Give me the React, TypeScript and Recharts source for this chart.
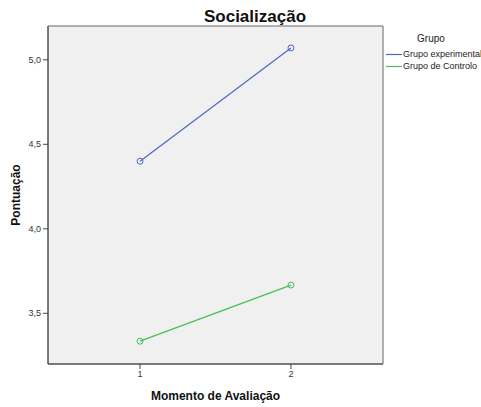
import React from "react";
import {
  LineChart,
  Line,
  XAxis,
  YAxis,
  CartesianGrid,
  ReferenceArea,
} from "recharts";

const moments = [1, 2];
const experimental = [4.4, 5.07];
const controlo = [3.335, 3.667];
const yTicks = [3.5, 4.0, 4.5, 5.0];
const seriesNames = ["Grupo experimental", "Grupo de Controlo"];
const seriesColors = ["#5166C2", "#44C056"];

const data = moments.map((m, i) => ({
  moment: m,
  experimental: experimental[i],
  controlo: controlo[i],
}));

const font = "Arial, 'Liberation Sans', sans-serif";
const fmt = (v: number) => v.toFixed(1).replace(".", ",");

const LegendBox = () => (
  <div style={{ position: "absolute", left: 386, top: 33, fontFamily: font, color: "#222" }}>
    <div style={{ fontSize: 10, textAlign: "center", width: 70, marginLeft: 10, marginBottom: 4 }}>
      Grupo
    </div>
    {seriesNames.map((n, i) => (
      <div key={n} style={{ display: "flex", alignItems: "center", fontSize: 9, height: 12 }}>
        <svg width={16} height={3} style={{ marginRight: 1 }}>
          <line x1={0} y1={1.5} x2={16} y2={1.5} stroke={seriesColors[i]} strokeWidth={1.2} />
        </svg>
        <span style={{ whiteSpace: "nowrap" }}>{n}</span>
      </div>
    ))}
  </div>
);

export default function App() {
  return (
    <div style={{ position: "absolute", left: 0, top: 0, width: 481, height: 407, background: "#fff" }}>
      <div
        style={{
          position: "absolute",
          left: 255,
          top: 7,
          transform: "translateX(-50%)",
          fontFamily: font,
          fontWeight: "bold",
          fontSize: 17,
          color: "#111",
        }}
      >
        Socialização
      </div>
      <LegendBox />
      <LineChart
        width={481}
        height={407}
        data={data}
        margin={{ top: 26, right: 98, bottom: 23, left: 8 }}
      >
        <CartesianGrid fill="#F0F0F0" horizontal={false} vertical={false} />
        <ReferenceArea
          x1={0.39}
          x2={2.61}
          y1={3.2}
          y2={5.2}
          fill="none"
          stroke="#666"
          strokeWidth={1}
          ifOverflow="extendDomain"
        />
        <XAxis
          dataKey="moment"
          type="number"
          domain={[0.39, 2.61]}
          ticks={moments}
          height={20}
          stroke="#444"
          tickSize={5}
          tick={{ fontSize: 9, fill: "#333", fontFamily: font }}
          label={{
            value: "Momento de Avaliação",
            position: "insideBottom",
            offset: -16,
            style: { fontSize: 12, fontWeight: "bold", fill: "#111", fontFamily: font },
          }}
        />
        <YAxis
          type="number"
          domain={[3.2, 5.2]}
          ticks={yTicks}
          width={40}
          stroke="#444"
          tickSize={5}
          tickFormatter={fmt}
          tick={{ fontSize: 9, fill: "#333", fontFamily: font }}
          label={{
            value: "Pontuação",
            angle: -90,
            position: "insideLeft",
            offset: 8,
            style: { fontSize: 12, fontWeight: "bold", fill: "#111", textAnchor: "middle", fontFamily: font },
          }}
        />
        <Line
          dataKey="experimental"
          name={seriesNames[0]}
          stroke={seriesColors[0]}
          strokeWidth={1.2}
          dot={{ r: 3, fill: "none", stroke: seriesColors[0], strokeWidth: 1 }}
          isAnimationActive={false}
        />
        <Line
          dataKey="controlo"
          name={seriesNames[1]}
          stroke={seriesColors[1]}
          strokeWidth={1.2}
          dot={{ r: 3, fill: "none", stroke: seriesColors[1], strokeWidth: 1 }}
          isAnimationActive={false}
        />
      </LineChart>
    </div>
  );
}
